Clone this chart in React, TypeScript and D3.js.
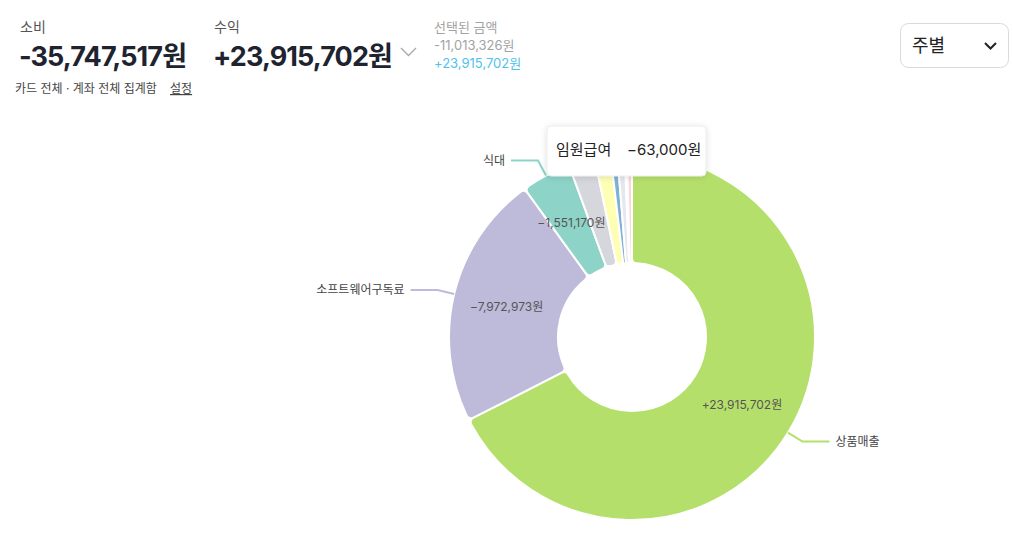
import React from "react";
import * as d3 from "d3";

const categories = ["상품매출", "소프트웨어구독료", "식대", "통신비", "사무용품", "교통비", "수수료", "임원급여", "기타"];
const amounts = [23915702, -7972973, -1551170, -820000, -500000, -210000, -230000, -63000, -160000];
const colors = ["#b5df6b", "#bebada", "#8dd3c7", "#d6d7dc", "#ffffb3", "#80b1d3", "#e6e7ec", "#fb8072", "#fcd5e0"];

const spendTotal = "-35,747,517원";
const incomeTotal = "+23,915,702원";
const selectedSpend = "-11,013,326원";
const selectedIncome = "+23,915,702원";
const tooltipIndex = 7;

const FONT = "Inter, 'Noto Sans CJK KR', sans-serif";

const fmt = (v: number) => (v > 0 ? "+" : "") + d3.format(",")(v) + "원";

export default function App() {
  const W = 1013, H = 560;
  const cx = 632, cy = 337, rOuter = 183, rInner = 74;
  const data = categories.map((c, i) => ({ name: c, value: amounts[i], color: colors[i] }));
  const pie = d3.pie<any>().sort(null).value((d: any) => Math.abs(d.value));
  const arcs = pie(data);
  const arc = d3.arc<any>().innerRadius(rInner).outerRadius(rOuter).cornerRadius(5);
  const labelArc = d3.arc<any>().innerRadius(129).outerRadius(129);

  const ext = 17, hor = 27;
  const labels = arcs.filter((a) => a.endAngle - a.startAngle > 0.15).map((a) => {
    const mid = (a.startAngle + a.endAngle) / 2;
    const sx = Math.sin(mid), sy = -Math.cos(mid);
    const p0 = [sx * rOuter, sy * rOuter];
    const p1 = [sx * (rOuter + ext), sy * (rOuter + ext)];
    const right = sx >= 0;
    const p2 = [p1[0] + (right ? hor : -hor), p1[1]];
    const inner = labelArc.centroid(a);
    return { a, p0, p1, p2, right, inner };
  });

  const tip = arcs[tooltipIndex];

  return (
    <div style={{ position: "absolute", left: 0, top: 0 }}>
      <svg width={W} height={H} style={{ display: "block", fontFamily: FONT }}>
        <defs>
          <filter id="sh" x="-20%" y="-30%" width="140%" height="170%">
            <feDropShadow dx="0" dy="1" stdDeviation="3" floodColor="#000" floodOpacity="0.12" />
          </filter>
        </defs>
        <rect width={W} height={H} fill="#fff" />
        {/* header */}
        <text x={20} y={32} fontSize={14} fill="#555">소비</text>
        <text x={19} y={66} fontSize={27} fontWeight={700} letterSpacing={-0.9} fill="#1e2330">{spendTotal}</text>
        <text x={214} y={32} fontSize={14} fill="#555">수익</text>
        <text x={213} y={66} fontSize={27} fontWeight={700} letterSpacing={-0.9} fill="#1e2330">{incomeTotal}</text>
        <path d="M401,48 L408.5,55.5 L416,48" fill="none" stroke="#aaa" strokeWidth={1.4} />
        <text x={434} y={32} fontSize={13} fill="#a3a3a3">선택된 금액</text>
        <text x={434} y={50} fontSize={13} fill="#a3a3a3">{selectedSpend}</text>
        <text x={434} y={68} fontSize={13} fill="#4fc1ee">{selectedIncome}</text>
        <text x={15} y={93} fontSize={12} fill="#444">카드 전체 · 계좌 전체 집계함</text>
        <text x={170} y={93} fontSize={12} fill="#444" textDecoration="underline">설정</text>

        {/* dropdown */}
        <rect x={900.5} y={23.5} width={108} height={44} rx={8} fill="#fff" stroke="#d9d9d9" />
        <text x={912} y={52} fontSize={18} fill="#222">주별</text>
        <path d="M985,43 L990.5,48.5 L996,43" fill="none" stroke="#222" strokeWidth={2} />

        {/* donut */}
        <g transform={`translate(${cx},${cy})`}>
          {arcs.map((a, i) => (
            <path key={i} d={arc(a) as string} fill={a.data.color} stroke="#fff" strokeWidth={2} strokeLinejoin="round" />
          ))}
          {labels.map((l, i) => (
            <g key={i}>
              <polyline points={[l.p0, l.p1, l.p2].map((p) => p.join(",")).join(" ")} fill="none" stroke={l.a.data.color} strokeWidth={2} />
              <text x={l.p2[0] + (l.right ? 6 : -6)} y={l.p2[1]} dy="0.35em" textAnchor={l.right ? "start" : "end"} fontSize={12} fill="#444">{l.a.data.name}</text>
              <text x={l.inner[0]} y={l.inner[1]} dy="0.35em" textAnchor="middle" fontSize={12} fill="#555">{fmt(l.a.data.value)}</text>
            </g>
          ))}
        </g>

        {/* tooltip */}
        <g>
          <rect x={547} y={126} width={159} height={50} rx={4} fill="#fff" stroke="#ececec" filter="url(#sh)" />
          <text x={556} y={155} fontSize={15} fill="#222">{tip.data.name}</text>
          <text x={627} y={155} fontSize={15} fill="#222">{fmt(tip.data.value)}</text>
        </g>
      </svg>
    </div>
  );
}
